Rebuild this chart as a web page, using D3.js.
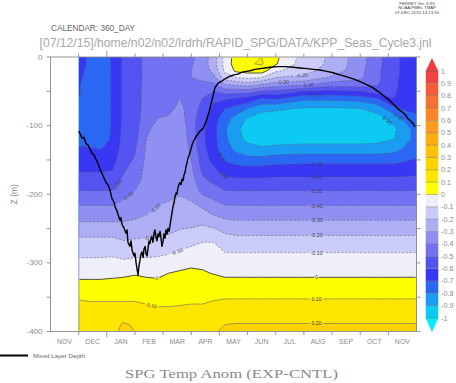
<!DOCTYPE html>
<html><head><meta charset="utf-8">
<script src="https://cdn.jsdelivr.net/npm/d3@7"></script>
<style>body{margin:0;background:#fff}svg{display:block}text{font-family:"Liberation Sans",Arial,sans-serif}</style>
</head><body>
<script>
// ---------------- DATA ----------------
// time axis in months (0 = 1 Nov, 1 = 1 Dec, 13 = 1 Dec next year), 360_DAY calendar
const months = [1.0,1.4,1.8,2.2,2.6,3.0,3.4,3.8,4.2,4.6,5.0,5.4,5.8,6.2,6.6,7.0,7.5,8.0,9.0,10.0,11.0,11.6,12.2,12.6,13.0];
// depth levels (m)
const depths = [0,10,20,30,40,50,60,75,90,105,120,135,150,165,180,195,210,225,240,255,270,285,300,315,330,345,360,375,390,400];
// temperature anomaly profiles (EXP-CNTL), one profile per month entry, values at the depths above
const anomaly = [
 [-0.66,-0.66,-0.67,-0.68,-0.69,-0.69,-0.70,-0.72,-0.74,-0.74, -0.72,-0.69,-0.65,-0.61,-0.56,-0.50,-0.43,-0.36,-0.30,-0.23, -0.17,-0.12,-0.08,-0.03,0.02,0.07,0.12,0.15,0.18,0.19],
 [-0.72,-0.72,-0.73,-0.74,-0.75,-0.75,-0.76,-0.76,-0.76,-0.75, -0.73,-0.69,-0.65,-0.61,-0.56,-0.50,-0.43,-0.36,-0.30,-0.23, -0.17,-0.12,-0.08,-0.03,0.02,0.07,0.11,0.14,0.17,0.18],
 [-0.75,-0.75,-0.76,-0.76,-0.76,-0.76,-0.76,-0.76,-0.76,-0.75, -0.73,-0.70,-0.66,-0.61,-0.56,-0.50,-0.43,-0.36,-0.30,-0.23, -0.17,-0.12,-0.08,-0.03,0.02,0.07,0.11,0.14,0.17,0.18],
 [-0.69,-0.69,-0.69,-0.69,-0.69,-0.69,-0.69,-0.69,-0.69,-0.69, -0.69,-0.67,-0.64,-0.60,-0.55,-0.50,-0.43,-0.36,-0.30,-0.23, -0.17,-0.12,-0.07,-0.02,0.02,0.07,0.11,0.14,0.17,0.18],
 [-0.58,-0.58,-0.58,-0.58,-0.58,-0.58,-0.58,-0.58,-0.58,-0.57, -0.56,-0.55,-0.53,-0.51,-0.48,-0.44,-0.39,-0.34,-0.30,-0.25, -0.19,-0.14,-0.08,-0.02,0.03,0.07,0.11,0.16,0.21,0.22],
 [-0.55,-0.55,-0.55,-0.55,-0.55,-0.55,-0.55,-0.55,-0.55,-0.54, -0.53,-0.51,-0.49,-0.46,-0.43,-0.40,-0.37,-0.33,-0.29,-0.24, -0.18,-0.13,-0.07,-0.01,0.04,0.07,0.11,0.15,0.19,0.20],
 [-0.47,-0.47,-0.47,-0.47,-0.47,-0.46,-0.46,-0.46,-0.44,-0.42, -0.40,-0.39,-0.38,-0.37,-0.37,-0.36,-0.34,-0.31,-0.28,-0.23, -0.18,-0.13,-0.07,-0.02,0.03,0.06,0.10,0.14,0.17,0.18],
 [-0.45,-0.45,-0.45,-0.45,-0.45,-0.45,-0.45,-0.43,-0.40,-0.37, -0.35,-0.34,-0.34,-0.34,-0.34,-0.33,-0.31,-0.29,-0.26,-0.22, -0.17,-0.12,-0.07,-0.02,0.02,0.05,0.09,0.13,0.16,0.17],
 [-0.43,-0.43,-0.43,-0.43,-0.43,-0.43,-0.43,-0.42,-0.39,-0.36, -0.34,-0.33,-0.33,-0.33,-0.33,-0.32,-0.30,-0.28,-0.25,-0.21, -0.16,-0.11,-0.05,0.00,0.03,0.06,0.09,0.13,0.16,0.17],
 [-0.44,-0.44,-0.43,-0.43,-0.42,-0.41,-0.40,-0.38,-0.36,-0.34, -0.33,-0.32,-0.32,-0.32,-0.32,-0.31,-0.29,-0.26,-0.23,-0.19, -0.14,-0.09,-0.03,0.01,0.04,0.07,0.095,0.13,0.16,0.17],
 [-0.42,-0.41,-0.40,-0.40,-0.41,-0.42,-0.43,-0.44,-0.45,-0.45, -0.44,-0.42,-0.40,-0.38,-0.36,-0.33,-0.30,-0.27,-0.23,-0.18, -0.12,-0.07,-0.02,0.02,0.05,0.08,0.10,0.13,0.16,0.17],
 [-0.36,-0.35,-0.36,-0.38,-0.42,-0.46,-0.50,-0.54,-0.57,-0.58, -0.58,-0.57,-0.55,-0.52,-0.48,-0.43,-0.35,-0.28,-0.22,-0.16, -0.10,-0.06,-0.02,0.01,0.04,0.08,0.10,0.13,0.17,0.18],
 [-0.25,-0.24,-0.27,-0.33,-0.42,-0.50,-0.57,-0.63,-0.66,-0.67, -0.67,-0.66,-0.63,-0.58,-0.52,-0.46,-0.39,-0.33,-0.25,-0.17, -0.10,-0.07,-0.04,-0.005,0.04,0.08,0.11,0.14,0.18,0.19],
 [-0.06,-0.06,-0.08,-0.15,-0.30,-0.45,-0.58,-0.70,-0.76,-0.79, -0.78,-0.76,-0.71,-0.64,-0.57,-0.50,-0.43,-0.35,-0.28,-0.21, -0.14,-0.10,-0.06,-0.02,0.03,0.08,0.12,0.16,0.20,0.22],
 [0.04,0.05,0.02,-0.10,-0.28,-0.45,-0.60,-0.74,-0.84,-0.88, -0.87,-0.82,-0.74,-0.66,-0.58,-0.50,-0.43,-0.36,-0.29,-0.22, -0.16,-0.10,-0.06,-0.02,0.03,0.08,0.12,0.16,0.205,0.23],
 [0.08,0.09,0.04,-0.08,-0.25,-0.45,-0.62,-0.80,-0.91,-0.94, -0.92,-0.86,-0.76,-0.66,-0.58,-0.50,-0.43,-0.36,-0.29,-0.22, -0.16,-0.10,-0.06,-0.02,0.03,0.08,0.12,0.16,0.205,0.23],
 [0.10,0.11,0.05,-0.10,-0.30,-0.52,-0.70,-0.87,-0.95,-0.97, -0.95,-0.88,-0.76,-0.66,-0.58,-0.50,-0.43,-0.36,-0.29,-0.22, -0.16,-0.10,-0.06,-0.02,0.03,0.08,0.12,0.16,0.205,0.23],
 [0.02,0.01,-0.08,-0.20,-0.35,-0.52,-0.68,-0.88,-0.96,-0.98, -0.95,-0.86,-0.74,-0.65,-0.575,-0.50,-0.43,-0.36,-0.29,-0.22, -0.16,-0.10,-0.06,-0.02,0.03,0.08,0.12,0.16,0.205,0.23],
 [-0.14,-0.15,-0.17,-0.22,-0.38,-0.60,-0.77,-0.91,-0.97,-0.98, -0.94,-0.85,-0.73,-0.65,-0.575,-0.50,-0.43,-0.36,-0.29,-0.22, -0.16,-0.10,-0.06,-0.02,0.03,0.08,0.12,0.16,0.205,0.23],
 [-0.22,-0.22,-0.24,-0.32,-0.45,-0.62,-0.77,-0.91,-0.97,-0.98, -0.94,-0.85,-0.73,-0.65,-0.575,-0.50,-0.43,-0.36,-0.29,-0.22, -0.16,-0.10,-0.06,-0.02,0.03,0.08,0.12,0.16,0.205,0.23],
 [-0.36,-0.36,-0.37,-0.38,-0.45,-0.60,-0.75,-0.90,-0.96,-0.97, -0.94,-0.85,-0.73,-0.65,-0.575,-0.50,-0.43,-0.36,-0.29,-0.22, -0.16,-0.10,-0.06,-0.02,0.03,0.08,0.12,0.16,0.205,0.23],
 [-0.47,-0.47,-0.48,-0.48,-0.49,-0.55,-0.70,-0.86,-0.94,-0.96, -0.93,-0.85,-0.73,-0.65,-0.575,-0.50,-0.43,-0.36,-0.29,-0.22, -0.16,-0.10,-0.06,-0.02,0.03,0.08,0.12,0.16,0.205,0.23],
 [-0.57,-0.57,-0.57,-0.57,-0.58,-0.58,-0.60,-0.72,-0.86,-0.92, -0.90,-0.83,-0.73,-0.65,-0.575,-0.50,-0.43,-0.36,-0.29,-0.22, -0.16,-0.10,-0.06,-0.02,0.03,0.08,0.12,0.16,0.205,0.23],
 [-0.63,-0.63,-0.63,-0.64,-0.64,-0.65,-0.66,-0.68,-0.78,-0.84, -0.83,-0.78,-0.71,-0.64,-0.575,-0.50,-0.43,-0.36,-0.29,-0.22, -0.16,-0.10,-0.06,-0.02,0.03,0.08,0.12,0.16,0.205,0.23],
 [-0.66,-0.66,-0.66,-0.67,-0.67,-0.67,-0.68,-0.69,-0.71,-0.76, -0.77,-0.74,-0.69,-0.63,-0.575,-0.50,-0.43,-0.36,-0.29,-0.22, -0.16,-0.10,-0.06,-0.02,0.03,0.08,0.12,0.16,0.205,0.23]
];
// mixed layer depth (m) through time (months)
const mldMonth = [1.00,1.05,1.12,1.19,1.26,1.33,1.40,1.47,1.55,1.62,1.69,1.76,1.83,1.90,1.97,2.04,2.11,2.18,2.26,2.29,2.36,2.40,2.47,2.50,2.54,2.61,2.68,2.72,2.75,2.82,2.86,2.90,2.97,3.00,3.04,3.07,3.11,3.14,3.18,3.21,3.25,3.29,3.32,3.36,3.39,3.43,3.46,3.50,3.53,3.57,3.60,3.64,3.68,3.71,3.75,3.78,3.82,3.85,3.89,3.93,3.96,4.00,4.03,4.07,4.10,4.14,4.17,4.21,4.25,4.28,4.32,4.35,4.39,4.42,4.46,4.49,4.53,4.56,4.60,4.64,4.67,4.71,4.74,4.78,4.81,4.85,4.88,4.95,5.03,5.10,5.17,5.24,5.31,5.42,5.52,5.63,5.74,5.84,5.95,6.09,6.23,6.38,6.52,6.66,6.80,6.95,7.09,7.26,7.44,7.62,7.80,8.05,8.33,8.62,8.86,9.11,9.33,9.57,9.82,10.04,10.28,10.53,10.75,11.00,11.21,11.42,11.63,11.85,12.03,12.21,12.35,12.49,12.60,12.70,12.81,12.88,12.95];
const mldDepth = [108,112,118,117,126,128,134,140,143,150,155,164,170,176,183,186,193,206,212,218,224,230,238,234,244,249,257,252,270,276,268,282,290,286,300,308,318,305,296,288,284,292,280,276,286,290,280,268,272,264,262,270,256,252,262,268,258,262,254,266,276,268,258,264,252,258,250,254,244,236,226,218,212,204,198,200,190,186,183,186,178,180,172,168,160,154,148,140,128,121,116,112,108,104,95,80,62,45,38,35,31,28,26,25,22,21,20,18,17,16,15,14,14,15,16,17,18,19,21,23,26,29,32,36,40,44,50,57,63,70,76,80,84,90,94,97,102];
// contour / colour levels
const levels = [-1,-0.9,-0.8,-0.7,-0.6,-0.5,-0.4,-0.3,-0.2,-0.1,0,0.1,0.2,0.3,0.4,0.5,0.6,0.7,0.8,0.9,1];
const colorbarLabels = ["-1","-0.9","-0.8","-0.7","-0.6","-0.5","-0.4","-0.3","-0.2","-0.1","0","0.1","0.2","0.3","0.4","0.5","0.6","0.7","0.8","0.9","1"];
const bandColors = ["#00ecfc","#0ccaf2","#1a9cf2","#2a68f4","#3838f4","#5454f2","#7272f2","#9090f2","#aeaef4","#ccccf8","#efeffa",
                    "#ffff00","#ffe600","#ffd200","#ffc000","#ffae10","#ff9a1c","#fc8628","#f87030","#f45a38","#f04242","#f03c3c"];
// axis tick labels
const monthLabels = ["NOV","DEC","JAN","FEB","MAR","APR","MAY","JUN","JUL","AUG","SEP","OCT","NOV"];
const depthTicks = [0,-100,-200,-300,-400];
const depthMinorTicks = [-50,-150,-250,-350];
// contour label placements (level, month, min depth to search from)
const labelLevels = [-0.5,-0.4,-0.3,-0.2,-0.1,0,0.1,0.2,-0.7,-0.6, -0.7,-0.4,-0.2,-0.3, -0.3,-0.2,-0.1,0,0.1, -0.5,-0.4, -0.7,-0.6, -0.9,-0.8];
const labelMonths = [9.45,9.45,9.45,9.45,9.45,9.45,9.45,9.45,9.45,9.45, 9.4,9.15,8.93,8.26, 3.72,3.54,4.49,3.78,3.6, 2.36,2.75, 6.09,6.13, 11.95,12.35];
const labelMinDepth = [150,150,150,150,150,150,150,150,120,120, 0,0,0,0, 150,200,200,250,300, 100,100, 100,130, 60,60];

// ---------------- DRAW ----------------
const W = 456, H = 383;
const svg = d3.select("body").append("svg").attr("width", W).attr("height", H);
const x = d3.scaleLinear().domain([0, 13]).range([50.5, 416.5]);
const y = d3.scaleLinear().domain([0, -400]).range([57, 331.5]);
const grey = "#8c8c8c";

const nx = months.length, ny = depths.length;
const values = new Array(nx * ny);
for (let j = 0; j < ny; j++) for (let i = 0; i < nx; i++) values[j * nx + i] = anomaly[i][j];
const colPos = d3.scaleLinear().domain(d3.range(nx)).range(months).clamp(true);
const rowPos = d3.scaleLinear().domain(d3.range(ny)).range(depths).clamp(true);
const px = c => x(colPos(c - 0.5));
const py = r => y(-rowPos(r - 0.5));
const path = d3.geoPath(d3.geoTransform({ point(a, b) { this.stream.point(px(a), py(b)); } }));
const contours = d3.contours().size([nx, ny]).thresholds(levels)(values);

const defs = svg.append("defs");
const x0 = x(months[0]), x1 = x(months[nx - 1]), y0 = y(0), y1 = y(-400);
defs.append("clipPath").attr("id", "plotClip").append("rect")
  .attr("x", x0).attr("y", y0).attr("width", x1 - x0).attr("height", y1 - y0);
defs.append("clipPath").attr("id", "lineClip").append("rect")
  .attr("x", x0 + 0.9).attr("y", y0 + 0.9).attr("width", x1 - x0 - 1.8).attr("height", y1 - y0 - 1.8);
defs.append("clipPath").attr("id", "frameClip").append("rect")
  .attr("x", x(0)).attr("y", y0).attr("width", x(13) - x(0)).attr("height", y1 - y0);

// filled bands
const gF = svg.append("g").attr("clip-path", "url(#plotClip)");
gF.append("rect").attr("x", x0).attr("y", y0).attr("width", x1 - x0).attr("height", y1 - y0).attr("fill", bandColors[0]);
gF.selectAll("path").data(contours).join("path")
  .attr("d", path).attr("fill", (d, i) => bandColors[i + 1]);

// contour labels
function findLabel(level, month, minDepth) {
  const c = contours.find(k => Math.abs(k.value - level) < 1e-9);
  const X = x(month), yMin = y(-minDepth);
  let best = null;
  c.coordinates.forEach(poly => poly.forEach(ring => {
    for (let k = 0; k < ring.length - 1; k++) {
      const ax = px(ring[k][0]), ay = py(ring[k][1]), bx = px(ring[k + 1][0]), by = py(ring[k + 1][1]);
      if (Math.abs(ay - y0) < 0.01 && Math.abs(by - y0) < 0.01) continue;
      if (Math.abs(ay - y1) < 0.01 && Math.abs(by - y1) < 0.01) continue;
      if ((ax - X) * (bx - X) <= 0 && ax !== bx) {
        const t = (X - ax) / (bx - ax), yy = ay + t * (by - ay);
        if (yy >= yMin && (!best || yy < best.y)) {
          let a = Math.atan2(by - ay, bx - ax) * 180 / Math.PI;
          if (a > 90) a -= 180; if (a < -90) a += 180;
          best = { x: X, y: yy, a };
        }
      }
    }
  }));
  return best;
}
const fmt = v => v === 0 ? "0" : (v < 0 ? "-" : "") + Math.abs(v).toFixed(2);
const labels = [];
labelLevels.forEach((lv, i) => {
  const p = findLabel(lv, labelMonths[i], labelMinDepth[i]);
  if (p) labels.push({ ...p, text: fmt(lv) });
});
const mask = defs.append("mask").attr("id", "labelMask").attr("maskUnits", "userSpaceOnUse")
  .attr("x", 0).attr("y", 0).attr("width", W).attr("height", H);
mask.append("rect").attr("width", W).attr("height", H).attr("fill", "#fff");
labels.forEach(l => {
  const w = l.text.length * 3.1 + 1.5;
  mask.append("rect").attr("x", -w / 2).attr("y", -2.6).attr("width", w).attr("height", 5.2)
    .attr("transform", `translate(${l.x},${l.y}) rotate(${l.a})`).attr("fill", "#000");
});

// contour lines
const gL = svg.append("g").attr("clip-path", "url(#lineClip)");
const gL2 = gL.append("g").attr("mask", "url(#labelMask)");
gL2.selectAll("path").data(contours.filter(c => c.value > -1 && c.value < 1)).join("path")
  .attr("d", path).attr("fill", "none")
  .attr("stroke", d => d.value === 0 ? "#3a3a3a" : "#5c5c6c")
  .attr("stroke-width", d => d.value === 0 ? 0.9 : 0.55)
  .attr("stroke-dasharray", d => d.value < 0 ? "2.2,1.6" : null);
svg.append("g").selectAll("text").data(labels).join("text")
  .attr("transform", d => `translate(${d.x},${d.y}) rotate(${d.a})`)
  .attr("text-anchor", "middle").attr("dominant-baseline", "central")
  .attr("font-size", 5.3).attr("fill", "#3c3c4c").text(d => d.text);

// mixed layer depth line
svg.append("path").datum(d3.range(mldMonth.length))
  .attr("clip-path", "url(#frameClip)")
  .attr("d", d3.line().x(i => x(mldMonth[i])).y(i => y(-mldDepth[i])))
  .attr("fill", "none").attr("stroke", "#000").attr("stroke-width", 1.4).attr("stroke-linejoin", "round");

// frame
const axG = svg.append("g").attr("stroke", "#8a8a8a").attr("stroke-width", 0.9).attr("fill", "none");
axG.append("rect").attr("x", x(0)).attr("y", y0).attr("width", x(13) - x(0)).attr("height", y1 - y0);
d3.range(1, 13).forEach(m => {
  const len = m === 2 ? 6 : 3.5;
  axG.append("line").attr("x1", x(m)).attr("x2", x(m)).attr("y1", y0).attr("y2", y0 - len);
  axG.append("line").attr("x1", x(m)).attr("x2", x(m)).attr("y1", y1).attr("y2", y1 + len);
});
depthTicks.concat(depthMinorTicks).forEach(d => {
  axG.append("line").attr("x1", x(0)).attr("x2", x(0) - 4).attr("y1", y(d)).attr("y2", y(d));
  axG.append("line").attr("x1", x(13)).attr("x2", x(13) + 4).attr("y1", y(d)).attr("y2", y(d));
});
svg.append("g").selectAll("text").data(depthTicks).join("text")
  .attr("x", 42.5).attr("y", d => y(d)).attr("text-anchor", "end").attr("dominant-baseline", "central")
  .attr("font-size", 8).attr("fill", grey).text(d => d === 0 ? "0" : "-" + Math.abs(d));
svg.append("g").selectAll("text").data(monthLabels).join("text")
  .attr("x", (d, i) => x(i + 0.5)).attr("y", 341.5).attr("text-anchor", "middle").attr("dominant-baseline", "central")
  .attr("font-size", 7).attr("fill", grey).text(d => d);
svg.append("text").attr("transform", `translate(14,${(y0 + y1) / 2}) rotate(-90)`)
  .attr("text-anchor", "middle").attr("dominant-baseline", "central")
  .attr("font-size", 8.5).attr("fill", grey).text("Z (m)");

// colour bar
const cb = d3.scaleLinear().domain([-1, 1]).range([318, 71]);
const cbx0 = 425.7, cbx1 = 438.3, cbxm = (cbx0 + cbx1) / 2;
const cbG = svg.append("g");
d3.range(levels.length - 1).forEach(k => {
  cbG.append("rect").attr("x", cbx0).attr("width", cbx1 - cbx0)
    .attr("y", cb(levels[k + 1])).attr("height", cb(levels[k]) - cb(levels[k + 1]))
    .attr("fill", bandColors[k + 1]);
});
cbG.append("path").attr("d", `M${cbx0},${cb(1)}L${cbx1},${cb(1)}L${cbxm},${cb(1) - 13}Z`).attr("fill", bandColors[bandColors.length - 1]);
cbG.append("path").attr("d", `M${cbx0},${cb(-1)}L${cbx1},${cb(-1)}L${cbxm},${cb(-1) + 14}Z`).attr("fill", bandColors[0]);
levels.forEach(v => {
  cbG.append("line").attr("x1", cbx0).attr("x2", cbx1).attr("y1", cb(v)).attr("y2", cb(v))
    .attr("stroke", "#6a6a6a").attr("stroke-width", 0.45);
});
cbG.selectAll("text").data(levels).join("text")
  .attr("x", 441).attr("y", v => cb(v)).attr("dominant-baseline", "central")
  .attr("font-size", 7.2).attr("fill", grey).text((v, i) => colorbarLabels[i]);

// header texts
const stamp = ["FERRET Ver. 6.93", "NOAA/PMEL TMAP", "07-DEC-2015 14:13:30"];
svg.append("g").selectAll("text").data(stamp).join("text")
  .attr("x", 417).attr("y", (d, i) => 5 + i * 4.3).attr("text-anchor", "middle")
  .attr("font-size", 4.3).attr("fill", "#444").text(d => d);
svg.append("text").attr("x", 51).attr("y", 31).attr("font-size", 8.6).attr("fill", "#666")
  .attr("textLength", 84).attr("lengthAdjust", "spacingAndGlyphs").text("CALENDAR: 360_DAY");
svg.append("text").attr("x", 39.5).attr("y", 46.5).attr("font-size", 12.5).attr("fill", "#a8a8a8")
  .attr("textLength", 392).attr("lengthAdjust", "spacingAndGlyphs")
  .text("[07/12/15]/home/n02/n02/lrdrh/RAPID_SPG/DATA/KPP_Seas_Cycle3.jnl");

// legend
svg.append("line").attr("x1", 0).attr("x2", 28).attr("y1", 355.5).attr("y2", 355.5).attr("stroke", "#000").attr("stroke-width", 2);
svg.append("text").attr("x", 33).attr("y", 355.5).attr("dominant-baseline", "central")
  .attr("font-size", 5.6).attr("fill", "#666").attr("textLength", 52).attr("lengthAdjust", "spacingAndGlyphs").text("Mixed Layer Depth");

// title (serif)
svg.append("text").attr("x", 125).attr("y", 378)
  .style("font-family", "'Liberation Serif','DejaVu Serif',serif")
  .attr("font-size", 13.5).attr("fill", "#8a8a8a").attr("textLength", 213).attr("lengthAdjust", "spacingAndGlyphs")
  .text("SPG Temp Anom (EXP-CNTL)");
</script>
</body></html>
